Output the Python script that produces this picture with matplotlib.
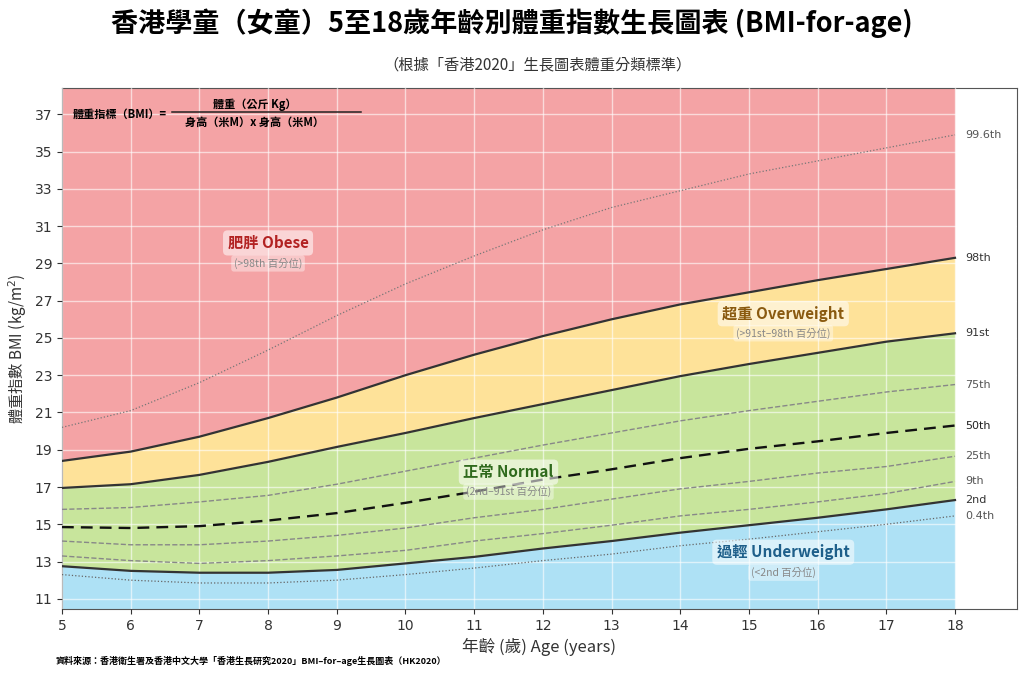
import numpy as np
import matplotlib.pyplot as plt

plt.rcParams['font.family'] = ['DejaVu Sans', 'Noto Sans CJK TC']
CJK = ['Noto Sans CJK TC', 'DejaVu Sans']

# age in years, BMI percentiles
age = [5, 6, 7, 8, 9, 10, 11, 12, 13, 14, 15, 16, 17, 18]
p996 = [20.2, 21.1, 22.6, 24.35, 26.2, 27.9, 29.4, 30.8, 32.0, 32.9, 33.8, 34.5, 35.2, 35.9]
p98 = [18.4, 18.9, 19.7, 20.7, 21.8, 23.0, 24.1, 25.1, 26.0, 26.8, 27.45, 28.1, 28.7, 29.3]
p91 = [16.95, 17.15, 17.65, 18.35, 19.15, 19.9, 20.7, 21.45, 22.2, 22.95, 23.6, 24.2, 24.8, 25.25]
p75 = [15.8, 15.9, 16.2, 16.55, 17.15, 17.85, 18.55, 19.25, 19.9, 20.55, 21.1, 21.6, 22.1, 22.5]
p50 = [14.85, 14.8, 14.9, 15.2, 15.6, 16.15, 16.75, 17.4, 17.95, 18.55, 19.05, 19.45, 19.9, 20.3]
p25 = [14.1, 13.9, 13.9, 14.1, 14.4, 14.8, 15.35, 15.8, 16.35, 16.9, 17.3, 17.75, 18.1, 18.65]
p9 = [13.3, 13.05, 12.9, 13.05, 13.3, 13.6, 14.1, 14.5, 14.95, 15.45, 15.8, 16.2, 16.65, 17.3]
p2 = [12.75, 12.5, 12.4, 12.4, 12.55, 12.9, 13.25, 13.7, 14.1, 14.55, 14.95, 15.35, 15.8, 16.3]
p04 = [12.3, 12.0, 11.85, 11.85, 12.0, 12.3, 12.65, 13.05, 13.4, 13.85, 14.2, 14.6, 15.0, 15.45]

yticks = [11, 13, 15, 17, 19, 21, 23, 25, 27, 29, 31, 33, 35, 37]
ymin, ymax = 10.45, 38.4

fig = plt.figure(figsize=(10.24, 6.79), dpi=100)
ax = fig.add_axes([0.0605, 0.103, 0.9325, 0.767])

ax.fill_between(age, p98, ymax, color='#f4a3a5', lw=0, zorder=1)
ax.fill_between(age, p91, p98, color='#fee299', lw=0, zorder=1)
ax.fill_between(age, p2, p91, color='#c8e59c', lw=0, zorder=1)
ax.fill_between(age, ymin, p2, color='#aee1f5', lw=0, zorder=1)

ax.grid(True, color='white', lw=1.0, alpha=0.6, zorder=2)
ax.set_axisbelow(False)

ax.plot(age, p996, ':', color='#777777', lw=0.9, zorder=3)
ax.plot(age, p04, ':', color='#666666', lw=0.9, zorder=3)
for s in (p75, p25, p9):
    ax.plot(age, s, '--', color='#888888', lw=1.0, zorder=3)
ax.plot(age, p50, '--', color='#111111', lw=1.7, dashes=(5, 3), zorder=3)
for s in (p98, p91, p2):
    ax.plot(age, s, '-', color='#333333', lw=1.6, zorder=4)

# right side percentile labels
labels = [('99.6th', p996, '#555555'), ('98th', p98, '#333333'), ('91st', p91, '#333333'),
          ('75th', p75, '#555555'), ('50th', p50, '#222222'), ('25th', p25, '#555555'),
          ('9th', p9, '#555555'), ('2nd', p2, '#333333'), ('0.4th', p04, '#555555')]
for name, s, c in labels:
    ax.text(18.15, s[-1], name, fontsize=8, color=c, va='center', ha='left')

# category annotations
cats = [('肥胖 Obese', '(>98th 百分位)', 8.0, 30.1, 29.0, '#b22222'),
        ('超重 Overweight', '(>91st–98th 百分位)', 15.5, 26.3, 25.25, '#8a5a10'),
        ('正常 Normal', '(2nd–91st 百分位)', 11.5, 17.8, 16.75, '#2f6a1d'),
        ('過輕 Underweight', '(<2nd 百分位)', 15.5, 13.5, 12.4, '#1e5f8a')]
for main, sub, x, y1, y2, c in cats:
    ax.text(x, y1, main, fontsize=11, fontweight='bold', color=c, ha='center', va='center',
            family=CJK, zorder=6,
            bbox=dict(boxstyle='round,pad=0.3', fc='white', ec='none', alpha=0.55))
    ax.text(x, y2, sub, fontsize=7.5, color='#888888', ha='center', va='center',
            family=CJK, zorder=6,
            bbox=dict(boxstyle='round,pad=0.25', fc='white', ec='none', alpha=0.4))

# BMI formula
ax.text(5.15, 37.0, '體重指標（BMI）=', fontsize=8, fontweight='bold', ha='left', va='center',
        family=CJK, zorder=6)
ax.plot([6.6, 9.35], [37.1, 37.1], color='#222222', lw=1.1, zorder=6)
ax.text(7.8, 37.55, '體重（公斤 Kg）', fontsize=8, fontweight='bold', ha='center', va='center',
        family=CJK, zorder=6)
ax.text(7.8, 36.55, '身高（米M）x 身高（米M）', fontsize=8, fontweight='bold', ha='center',
        va='center', family=CJK, zorder=6)

ax.set_xlim(5, 18.9)
ax.set_ylim(ymin, ymax)
ax.set_xticks(age)
ax.set_yticks(yticks)
ax.tick_params(labelsize=10, colors='#333333')
for sp in ax.spines.values():
    sp.set_color('#555555')

ax.set_xlabel('年齡 (歲) Age (years)', fontsize=12, color='#333333', family=CJK)
ax.set_ylabel('體重指數 BMI (kg/m$^2$)', fontsize=11, color='#333333', family=CJK)

fig.text(0.5, 0.966, '香港學童（女童）5至18歲年齡別體重指數生長圖表 (BMI-for-age)',
         fontsize=19.5, fontweight='bold', ha='center', va='center', family=CJK)
fig.text(0.525, 0.904, '（根據「香港2020」生長圖表體重分類標準）', fontsize=11, ha='center',
         va='center', color='#333333', family=CJK)
fig.text(0.054, 0.026, '資料來源：香港衛生署及香港中文大學「香港生長研究2020」BMI–for–age生長圖表（HK2020）',
         fontsize=6.5, fontweight='bold', ha='left', va='center', family=CJK)

fig.savefig('out.png', dpi=100)
